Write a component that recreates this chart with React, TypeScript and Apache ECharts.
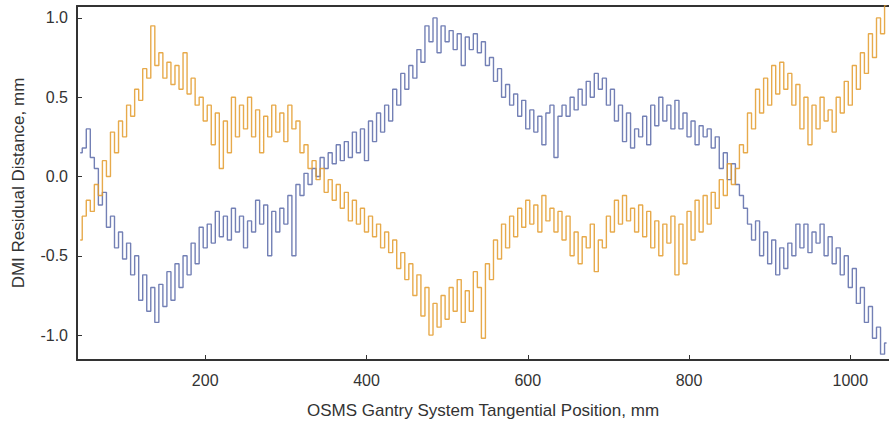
import React, { useEffect, useRef } from "react";
import * as echarts from "echarts";

const positions: number[] = [];
for (let x = 45; x <= 1045; x += 5) positions.push(x);

const blueValues = [
  0.15, 0.18, 0.3, 0.12, 0.05, -0.18, -0.1, -0.32, -0.25, -0.45,
  -0.35, -0.52, -0.42, -0.62, -0.5, -0.78, -0.62, -0.85, -0.7, -0.92,
  -0.68, -0.82, -0.6, -0.78, -0.55, -0.7, -0.5, -0.62, -0.42, -0.55,
  -0.32, -0.45, -0.3, -0.42, -0.22, -0.38, -0.25, -0.4, -0.2, -0.35,
  -0.25, -0.45, -0.28, -0.35, -0.15, -0.3, -0.18, -0.5, -0.22, -0.35,
  -0.2, -0.3, -0.12, -0.5, -0.05, -0.12, 0.02, -0.05, 0.05, 0.0,
  0.12, 0.05, 0.15, 0.08, 0.2, 0.1, 0.22, 0.12, 0.28, 0.15,
  0.3, 0.1, 0.35, 0.22, 0.4, 0.28, 0.45, 0.35, 0.55, 0.45,
  0.65, 0.55, 0.7, 0.62, 0.8, 0.72, 0.95, 0.85, 1.0, 0.78,
  0.95, 0.85, 0.92, 0.8, 0.9, 0.7, 0.88, 0.8, 0.9, 0.78,
  0.85, 0.7, 0.75, 0.6, 0.68, 0.5, 0.58, 0.45, 0.52, 0.38,
  0.48, 0.3, 0.42, 0.28, 0.38, 0.2, 0.4, 0.45, 0.12, 0.38,
  0.45, 0.38, 0.5, 0.42, 0.55, 0.45, 0.6, 0.5, 0.65, 0.55,
  0.62, 0.45, 0.55, 0.35, 0.45, 0.22, 0.4, 0.18, 0.3, 0.25,
  0.38, 0.2, 0.45, 0.32, 0.5, 0.35, 0.45, 0.3, 0.48, 0.3,
  0.4, 0.25, 0.35, 0.2, 0.32, 0.25, 0.3, 0.18, 0.25, 0.05,
  0.15, -0.02, 0.08, -0.05, -0.12, -0.2, -0.3, -0.4, -0.28, -0.5,
  -0.35, -0.55, -0.4, -0.62, -0.45, -0.58, -0.42, -0.5, -0.3, -0.45,
  -0.3, -0.48, -0.35, -0.42, -0.3, -0.5, -0.38, -0.55, -0.45, -0.62,
  -0.5, -0.7, -0.58, -0.8, -0.7, -0.92, -0.82, -1.02, -0.95, -1.12,
  -1.05,
];

const orangeValues = [
  -0.4, -0.25, -0.15, -0.22, -0.05, -0.12, 0.1, 0.0, 0.28, 0.15,
  0.35, 0.25, 0.45, 0.38, 0.55, 0.48, 0.68, 0.62, 0.95, 0.7,
  0.78, 0.62, 0.72, 0.58, 0.7, 0.55, 0.78, 0.52, 0.62, 0.45,
  0.5, 0.35, 0.45, 0.2, 0.4, 0.05, 0.35, 0.15, 0.5, 0.25,
  0.45, 0.3, 0.5, 0.25, 0.42, 0.15, 0.38, 0.25, 0.45, 0.28,
  0.4, 0.22, 0.45, 0.3, 0.35, 0.15, 0.2, 0.05, 0.1, -0.02,
  0.05, -0.1, -0.02, -0.15, -0.05, -0.2, -0.1, -0.28, -0.15, -0.3,
  -0.2, -0.35, -0.25, -0.38, -0.3, -0.45, -0.35, -0.48, -0.4, -0.58,
  -0.48, -0.65, -0.55, -0.75, -0.62, -0.88, -0.7, -1.0, -0.8, -0.95,
  -0.75, -0.9, -0.7, -0.85, -0.65, -0.92, -0.72, -0.85, -0.6, -0.7,
  -1.02, -0.55, -0.65, -0.4, -0.52, -0.3, -0.45, -0.25, -0.38, -0.2,
  -0.32, -0.15, -0.3, -0.18, -0.35, -0.12, -0.28, -0.2, -0.35, -0.22,
  -0.4, -0.25, -0.5, -0.35, -0.55, -0.38, -0.45, -0.3, -0.6, -0.4,
  -0.45, -0.25, -0.35, -0.15, -0.3, -0.12, -0.28, -0.2, -0.35, -0.18,
  -0.38, -0.22, -0.45, -0.28, -0.5, -0.3, -0.42, -0.25, -0.62, -0.3,
  -0.55, -0.22, -0.4, -0.15, -0.35, -0.12, -0.3, -0.1, -0.2, -0.02,
  -0.12, 0.08, -0.05, 0.05, 0.2, 0.15, 0.4, 0.3, 0.55, 0.4,
  0.62, 0.45, 0.7, 0.52, 0.72, 0.55, 0.65, 0.45, 0.58, 0.3,
  0.5, 0.2, 0.45, 0.3, 0.5, 0.35, 0.42, 0.28, 0.5, 0.4,
  0.6, 0.45, 0.7, 0.55, 0.78, 0.65, 0.9, 0.75, 1.0, 0.9,
  1.08,
];

const xTicks = [200, 400, 600, 800, 1000];
const yTicks = [-1.0, -0.5, 0.0, 0.5, 1.0];

const xTitle = "OSMS Gantry System Tangential Position, mm";
const yTitle = "DMI Residual Distance, mm";

export default function App() {
  const ref = useRef<HTMLDivElement>(null);
  useEffect(() => {
    document.body.style.margin = "0";
    if (!ref.current) return;
    const chart = echarts.init(ref.current, null, { renderer: "svg" });
    const axisColor = "#333";
    const font = "Liberation Sans, Arial, sans-serif";
    chart.setOption({
      animation: false,
      backgroundColor: "#fff",
      grid: { left: 77, right: 0, top: 6, bottom: 63 },
      xAxis: [
        {
          type: "value",
          min: 41,
          max: 1048,
          position: "bottom",
          axisLine: { onZero: false, lineStyle: { color: axisColor, width: 2 } },
          axisTick: { inside: true, length: 5, customValues: xTicks, lineStyle: { color: axisColor, width: 1 } },
          axisLabel: {
            customValues: xTicks,
            color: "#333",
            fontSize: 16,
            fontFamily: font,
            margin: 12,
            formatter: (v: number) => String(v),
          },
          splitLine: { show: false },
          name: xTitle,
          nameLocation: "middle",
          nameGap: 42,
          nameTextStyle: { color: "#333", fontSize: 17, fontFamily: font },
        },
        {
          type: "value",
          min: 41,
          max: 1048,
          position: "top",
          axisLine: { show: true, onZero: false, lineStyle: { color: axisColor, width: 2 } },
          axisTick: { show: false },
          axisLabel: { show: false },
          splitLine: { show: false },
        },
      ],
      yAxis: {
        type: "value",
        min: -1.157,
        max: 1.075,
        axisLine: { show: true, onZero: false, lineStyle: { color: axisColor, width: 2 } },
        axisTick: { show: true, inside: true, length: 5, customValues: yTicks, lineStyle: { color: axisColor, width: 1 } },
        axisLabel: {
          customValues: yTicks,
          color: "#333",
          fontSize: 16,
          fontFamily: font,
          margin: 9,
          formatter: (v: number) => v.toFixed(1),
        },
        splitLine: { show: false },
        name: yTitle,
        nameLocation: "middle",
        nameGap: 50,
        nameTextStyle: { color: "#333", fontSize: 17, fontFamily: font },
      },
      series: [
        {
          type: "line",
          xAxisIndex: 0,
          data: positions.map((x, i) => [x, blueValues[i]]),
          showSymbol: false,
          step: "middle",
          lineStyle: { color: "#5b6aa8", width: 1.4, opacity: 0.85 },
          itemStyle: { color: "#5b6aa8" },
        },
        {
          type: "line",
          xAxisIndex: 0,
          data: positions.map((x, i) => [x, orangeValues[i]]),
          showSymbol: false,
          step: "middle",
          lineStyle: { color: "#e39b2c", width: 1.4, opacity: 0.85 },
          itemStyle: { color: "#e39b2c" },
        },
      ],
    });
    return () => chart.dispose();
  }, []);
  return <div ref={ref} style={{ width: 889, height: 424 }} />;
}
